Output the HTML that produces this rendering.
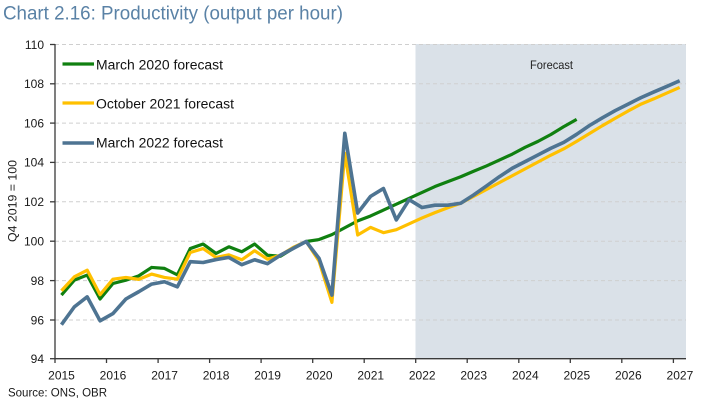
<!DOCTYPE html>
<html>
<head>
<meta charset="utf-8">
<style>
  html,body{margin:0;padding:0;background:#fff;}
  svg{display:block;}
  text{font-family:"Liberation Sans",sans-serif;}
</style>
</head>
<body>
<svg width="703" height="409" viewBox="0 0 703 409" xmlns="http://www.w3.org/2000/svg">
  <!-- Title -->
  <text x="3" y="19.5" font-size="19" fill="#5a82a6" textLength="340" lengthAdjust="spacingAndGlyphs">Chart 2.16: Productivity (output per hour)</text>

  <!-- Forecast shading -->
  <rect x="415.5" y="44" width="270.5" height="314.5" fill="#dae1e8"/>
  <text x="551.5" y="69" font-size="12" fill="#222" text-anchor="middle" textLength="43" lengthAdjust="spacingAndGlyphs">Forecast</text>

  <!-- Gridlines -->
  <g stroke="#cfcfcf" stroke-width="1" stroke-dasharray="4 3">
    <line x1="55" y1="44.5" x2="686" y2="44.5"/>
    <line x1="55" y1="83.8" x2="686" y2="83.8"/>
    <line x1="55" y1="123.1" x2="686" y2="123.1"/>
    <line x1="55" y1="162.4" x2="686" y2="162.4"/>
    <line x1="55" y1="201.8" x2="686" y2="201.8"/>
    <line x1="55" y1="241.2" x2="686" y2="241.2"/>
    <line x1="55" y1="280.6" x2="686" y2="280.6"/>
    <line x1="55" y1="320" x2="686" y2="320"/>
  </g>

  <!-- Axes -->
  <g stroke="#3a3a3a" stroke-width="1.3" fill="none">
    <line x1="55" y1="44" x2="55" y2="359"/>
    <line x1="54.4" y1="358.7" x2="686" y2="358.7"/>
    <!-- y ticks -->
    <line x1="50" y1="44.5" x2="55" y2="44.5"/>
    <line x1="50" y1="83.8" x2="55" y2="83.8"/>
    <line x1="50" y1="123.1" x2="55" y2="123.1"/>
    <line x1="50" y1="162.4" x2="55" y2="162.4"/>
    <line x1="50" y1="201.8" x2="55" y2="201.8"/>
    <line x1="50" y1="241.2" x2="55" y2="241.2"/>
    <line x1="50" y1="280.6" x2="55" y2="280.6"/>
    <line x1="50" y1="320" x2="55" y2="320"/>
    <line x1="50" y1="358.7" x2="55" y2="358.7"/>
    <!-- x ticks -->
    <line x1="55" y1="358.7" x2="55" y2="363"/>
    <line x1="106.5" y1="358.7" x2="106.5" y2="363"/>
    <line x1="158.1" y1="358.7" x2="158.1" y2="363"/>
    <line x1="209.6" y1="358.7" x2="209.6" y2="363"/>
    <line x1="261.1" y1="358.7" x2="261.1" y2="363"/>
    <line x1="312.7" y1="358.7" x2="312.7" y2="363"/>
    <line x1="364.2" y1="358.7" x2="364.2" y2="363"/>
    <line x1="415.7" y1="358.7" x2="415.7" y2="363"/>
    <line x1="467.2" y1="358.7" x2="467.2" y2="363"/>
    <line x1="518.8" y1="358.7" x2="518.8" y2="363"/>
    <line x1="570.3" y1="358.7" x2="570.3" y2="363"/>
    <line x1="621.8" y1="358.7" x2="621.8" y2="363"/>
    <line x1="673.4" y1="358.7" x2="673.4" y2="363"/>
  </g>

  <!-- Y tick labels -->
  <g font-size="12" fill="#1a1a1a" text-anchor="end">
    <text x="44" y="48.8">110</text>
    <text x="44" y="88.1">108</text>
    <text x="44" y="127.4">106</text>
    <text x="44" y="166.7">104</text>
    <text x="44" y="206.1">102</text>
    <text x="44" y="245.5">100</text>
    <text x="44" y="284.9">98</text>
    <text x="44" y="324.3">96</text>
    <text x="44" y="363">94</text>
  </g>

  <!-- Y axis title -->
  <text transform="translate(16.5,201) rotate(-90)" font-size="12" fill="#1a1a1a" text-anchor="middle" textLength="82" lengthAdjust="spacingAndGlyphs">Q4 2019 = 100</text>

  <!-- X tick labels -->
  <g font-size="12" fill="#1a1a1a" text-anchor="middle">
    <text x="61.5" y="379.5">2015</text>
    <text x="113" y="379.5">2016</text>
    <text x="164.6" y="379.5">2017</text>
    <text x="216.1" y="379.5">2018</text>
    <text x="267.6" y="379.5">2019</text>
    <text x="319.2" y="379.5">2020</text>
    <text x="370.7" y="379.5">2021</text>
    <text x="422.2" y="379.5">2022</text>
    <text x="473.7" y="379.5">2023</text>
    <text x="525.3" y="379.5">2024</text>
    <text x="576.8" y="379.5">2025</text>
    <text x="628.3" y="379.5">2026</text>
    <text x="679.9" y="379.5">2027</text>
  </g>

  <!-- Source -->
  <text x="8" y="396.5" font-size="11.5" fill="#1a1a1a" textLength="99" lengthAdjust="spacingAndGlyphs">Source: ONS, OBR</text>

  <!-- Series (data coords: x = quarter index, y = value) -->
  <g transform="matrix(12.88 0 0 -19.63 61.44 2204.5)" fill="none" stroke-linejoin="round" stroke-linecap="butt">
    <polyline vector-effect="non-scaling-stroke" stroke="#108010" stroke-width="3.2"
      points="0,97.27 1,98.03 2,98.29 3,97.07 4,97.86 5,98.03 6,98.25 7,98.68 8,98.63 9,98.3 10,99.64 11,99.87 12,99.39 13,99.73 14,99.48 15,99.87 16,99.3 17,99.25 18,99.65 19,100.0 20,100.1 21,100.35 22,100.7 23,101.05 24,101.3 25,101.6 26,101.9 27,102.2 28,102.5 29,102.8 30,103.05 31,103.3 32,103.58 33,103.85 34,104.15 35,104.45 36,104.8 37,105.1 38,105.45 39,105.85 40,106.22"/>
    <polyline vector-effect="non-scaling-stroke" stroke="#ffc000" stroke-width="3.2"
      points="0,97.49 1,98.2 2,98.54 3,97.29 4,98.08 5,98.17 6,98.07 7,98.34 8,98.17 9,98.08 10,99.44 11,99.64 12,99.19 13,99.32 14,99.07 15,99.53 16,99.1 17,99.3 18,99.7 19,100.0 20,99.0 21,96.9 22,104.5 23,100.33 24,100.72 25,100.45 26,100.6 27,100.9 28,101.2 29,101.47 30,101.72 31,101.95 32,102.3 33,102.65 34,103.0 35,103.35 36,103.7 37,104.05 38,104.4 39,104.72 40,105.1 41,105.5 42,105.9 43,106.28 44,106.65 45,107.0 46,107.27 47,107.56 48,107.85"/>
    <polyline vector-effect="non-scaling-stroke" stroke="#4e7492" stroke-width="3.6"
      points="0,95.76 1,96.67 2,97.18 3,95.96 4,96.33 5,97.07 6,97.44 7,97.83 8,97.95 9,97.69 10,98.97 11,98.93 12,99.08 13,99.19 14,98.82 15,99.07 16,98.87 17,99.3 18,99.65 19,100.0 20,99.14 21,97.27 22,105.51 23,101.45 24,102.3 25,102.7 26,101.1 27,102.13 28,101.73 29,101.85 30,101.85 31,101.95 32,102.37 33,102.83 34,103.3 35,103.73 36,104.07 37,104.41 38,104.75 39,105.05 40,105.46 41,105.91 42,106.3 43,106.67 44,107.0 45,107.33 46,107.62 47,107.9 48,108.19"/>
  </g>

  <!-- Legend -->
  <g stroke-width="3.2">
    <line x1="62.5" y1="64" x2="94" y2="64" stroke="#108010"/>
    <line x1="62.5" y1="103" x2="94" y2="103" stroke="#ffc000"/>
    <line x1="62.5" y1="143" x2="94" y2="143" stroke="#4e7492" stroke-width="3.6"/>
  </g>
  <g font-size="13.5" fill="#111">
    <text x="96" y="69.3" textLength="127" lengthAdjust="spacingAndGlyphs">March 2020 forecast</text>
    <text x="96" y="108.3" textLength="138" lengthAdjust="spacingAndGlyphs">October 2021 forecast</text>
    <text x="96" y="147.7" textLength="127" lengthAdjust="spacingAndGlyphs">March 2022 forecast</text>
  </g>
</svg>
</body>
</html>
